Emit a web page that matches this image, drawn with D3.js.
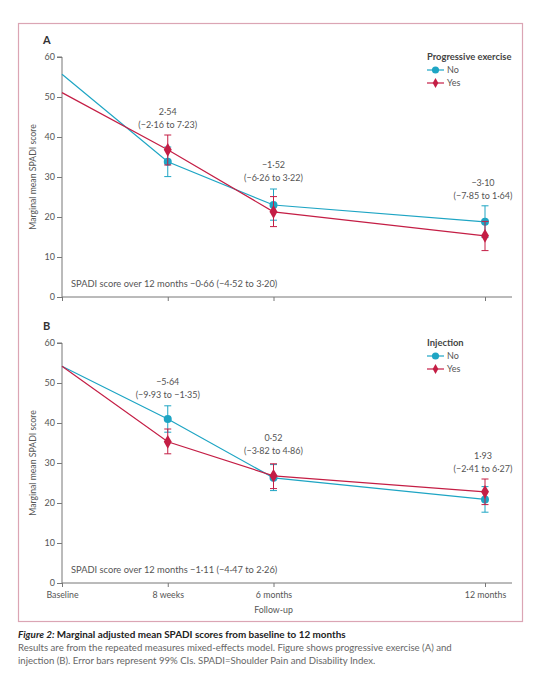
<!DOCTYPE html>
<html>
<head>
<meta charset="utf-8">
<script src="https://cdn.jsdelivr.net/npm/d3@7"></script>
<style>
  body { margin: 0; background: #fff; }
  svg text { font-family: "Lato", "Noto Sans", sans-serif; fill: #555; }
</style>
</head>
<body>
<svg id="fig" width="543" height="680"></svg>
<script>
// Eixo X: pontos de seguimento (12 meses fica na posição 4)
const timeLabels = ["Baseline", "8 weeks", "6 months", "12 months"];
const timePos = [0, 1, 2, 4];
const yTicks = [0, 10, 20, 30, 40, 50, 60];

// Painel A: exercício progressivo
const exNoMean = [55.7, 33.8, 23.0, 18.8];
const exNoLow = [null, 30.1, 19.2, 14.9];
const exNoHigh = [null, 37.5, 27.0, 22.8];
const exYesMean = [51.1, 36.8, 21.3, 15.3];
const exYesLow = [null, 33.0, 17.6, 11.6];
const exYesHigh = [null, 40.5, 25.1, 18.9];
const exDiff = [null, "2·54", "−1·52", "−3·10"];
const exDiffCI = [null, "(−2·16 to 7·23)", "(−6·26 to 3·22)", "(−7·85 to 1·64)"];
const exOverall = "SPADI score over 12 months −0·66 (−4·52 to 3·20)";

// Painel B: injeção
const injNoMean = [54.2, 41.0, 26.3, 20.9];
const injNoLow = [null, 37.7, 23.1, 17.7];
const injNoHigh = [null, 44.3, 29.6, 24.1];
const injYesMean = [54.2, 35.3, 26.8, 22.8];
const injYesLow = [null, 32.3, 23.6, 19.6];
const injYesHigh = [null, 38.5, 29.8, 26.0];
const injDiff = [null, "−5·64", "0·52", "1·93"];
const injDiffCI = [null, "(−9·93 to −1·35)", "(−3·82 to 4·86)", "(−2·41 to 6·27)"];
const injOverall = "SPADI score over 12 months −1·11 (−4·47 to 2·26)";

const CYAN = "#1ea5c4";
const RED = "#c41e45";
const AXIS = "#777";

const svg = d3.select("#fig");

// Moldura rosa
svg.append("rect")
    .attr("x", 18.5).attr("y", 23.5)
    .attr("width", 504).attr("height", 598)
    .attr("fill", "none")
    .attr("stroke", "#dba5b4")
    .attr("stroke-width", 1.2);

const x = d3.scaleLinear().domain([0, 4]).range([62, 485]);

function panel(opt) {
    const y = d3.scaleLinear().domain([0, 60]).range([opt.y0, opt.y0 - 240]);
    const g = svg.append("g");

    // Letra do painel
    g.append("text")
        .attr("x", 43).attr("y", opt.y0 - 253)
        .style("font-weight", "bold").style("font-size", "11px")
        .style("fill", "#333")
        .text(opt.letter);

    // Eixo Y
    const yAxis = d3.axisLeft(y).tickValues(yTicks).tickSize(5).tickPadding(2);
    const ya = g.append("g").attr("transform", `translate(${x(0)},0)`).call(yAxis);
    ya.select(".domain").attr("stroke", AXIS).attr("d", `M-5,${y(60)}H0V${y(0)}`);
    ya.selectAll(".tick line").attr("stroke", AXIS);
    ya.selectAll(".tick text").style("font-size", "9px").style("font-family", "Lato, sans-serif").attr("fill", "#666");

    // Eixo X
    const xAxis = d3.axisBottom(x).tickValues(timePos).tickSize(4)
        .tickFormat((d, i) => opt.showLabels ? timeLabels[i] : "");
    const xa = g.append("g").attr("transform", `translate(0,${y(0)})`).call(xAxis);
    xa.select(".domain").attr("stroke", AXIS).attr("d", `M${x(0)},0H512`);
    xa.selectAll(".tick line").attr("stroke", AXIS);
    xa.selectAll(".tick text").style("font-size", "8.8px").style("font-family", "Lato, sans-serif").attr("fill", "#555").attr("dy", "0.9em");

    // Rótulo do eixo Y
    g.append("text")
        .attr("transform", `translate(36,${y(30)}) rotate(-90)`)
        .attr("text-anchor", "middle")
        .style("font-size", "8.7px")
        .text("Marginal mean SPADI score");

    const series = [
        { mean: opt.noMean, low: opt.noLow, high: opt.noHigh, color: CYAN, shape: d3.symbolCircle },
        { mean: opt.yesMean, low: opt.yesLow, high: opt.yesHigh, color: RED, shape: d3.symbolDiamond }
    ];

    const line = d3.line().x((d, i) => x(timePos[i])).y(d => y(d));

    series.forEach(s => {
        // Barras de erro
        const eb = g.append("g");
        s.mean.forEach((m, i) => {
            if (s.low[i] == null) return;
            const cx = x(timePos[i]);
            eb.append("line").attr("x1", cx).attr("x2", cx)
                .attr("y1", y(s.low[i])).attr("y2", y(s.high[i]));
            [s.low[i], s.high[i]].forEach(v => {
                eb.append("line").attr("x1", cx - 3.5).attr("x2", cx + 3.5)
                    .attr("y1", y(v)).attr("y2", y(v));
            });
        });
        eb.selectAll("line").attr("stroke", s.color).attr("stroke-width", 1);

        g.append("path")
            .datum(s.mean)
            .attr("d", line)
            .attr("fill", "none")
            .attr("stroke", s.color)
            .attr("stroke-width", 1.2);

        g.selectAll(null)
            .data(s.mean.slice(1))
            .enter()
            .append("path")
                .attr("transform", (d, i) => `translate(${x(timePos[i + 1])},${y(d)})`)
                .attr("d", d3.symbol().type(s.shape).size(s.shape === d3.symbolCircle ? 50 : 55))
                .attr("fill", s.color);
    });

    // Anotações das diferenças
    const ann = g.append("g").style("font-size", "9px").attr("text-anchor", "middle");
    opt.diff.forEach((d, i) => {
        if (d == null) return;
        const cx = x(timePos[i]) + (i === 3 ? -2 : 0);
        const ty = opt.annY[i];
        ann.append("text").attr("x", cx).attr("y", ty).text(d);
        ann.append("text").attr("x", cx).attr("y", ty + 13).text(opt.diffCI[i]);
    });

    g.append("text")
        .attr("x", 71).attr("y", y(0) - 10)
        .style("font-size", "9.3px")
        .text(opt.overall);

    // Legenda
    const lg = g.append("g").attr("transform", `translate(427,${opt.y0 - 240})`);
    lg.append("text").attr("x", 0).attr("y", 3)
        .style("font-weight", "bold").style("font-size", "9.4px").style("fill", "#444")
        .text(opt.legendTitle);
    [["No", CYAN, d3.symbolCircle, 40], ["Yes", RED, d3.symbolDiamond, 28]].forEach((e, i) => {
        const ly = 16 + i * 13;
        lg.append("line").attr("x1", 0).attr("x2", 17).attr("y1", ly - 3).attr("y2", ly - 3)
            .attr("stroke", e[1]).attr("stroke-width", 1.2);
        lg.append("path").attr("transform", `translate(8.5,${ly - 3})`)
            .attr("d", d3.symbol().type(e[2]).size(e[3])).attr("fill", e[1]);
        lg.append("text").attr("x", 20).attr("y", ly).style("font-size", "9px").text(e[0]);
    });
}

panel({
    letter: "A", y0: 297, showLabels: false,
    noMean: exNoMean, noLow: exNoLow, noHigh: exNoHigh,
    yesMean: exYesMean, yesLow: exYesLow, yesHigh: exYesHigh,
    diff: exDiff, diffCI: exDiffCI, overall: exOverall,
    annY: [null, 115, 168, 186],
    legendTitle: "Progressive exercise"
});

panel({
    letter: "B", y0: 583, showLabels: true,
    noMean: injNoMean, noLow: injNoLow, noHigh: injNoHigh,
    yesMean: injYesMean, yesLow: injYesLow, yesHigh: injYesHigh,
    diff: injDiff, diffCI: injDiffCI, overall: injOverall,
    annY: [null, 385, 441, 459],
    legendTitle: "Injection"
});

svg.append("text")
    .attr("x", x(2)).attr("y", 613)
    .attr("text-anchor", "middle")
    .style("font-size", "8.8px")
    .text("Follow-up");

// Legenda da figura
const cap = svg.append("g").attr("transform", "translate(18,0)");
const t1 = cap.append("text").attr("y", 638).style("font-size", "9.9px").style("font-weight", "bold").style("fill", "#222");
t1.append("tspan").style("font-style", "italic").text("Figure 2: ");
t1.append("tspan").text("Marginal adjusted mean SPADI scores from baseline to 12 months");
cap.append("text").attr("y", 651).style("font-size", "9.6px").style("fill", "#666")
    .text("Results are from the repeated measures mixed-effects model. Figure shows progressive exercise (A) and");
cap.append("text").attr("y", 664).style("font-size", "9.6px").style("fill", "#666")
    .text("injection (B). Error bars represent 99% CIs. SPADI=Shoulder Pain and Disability Index.");
</script>
</body>
</html>
